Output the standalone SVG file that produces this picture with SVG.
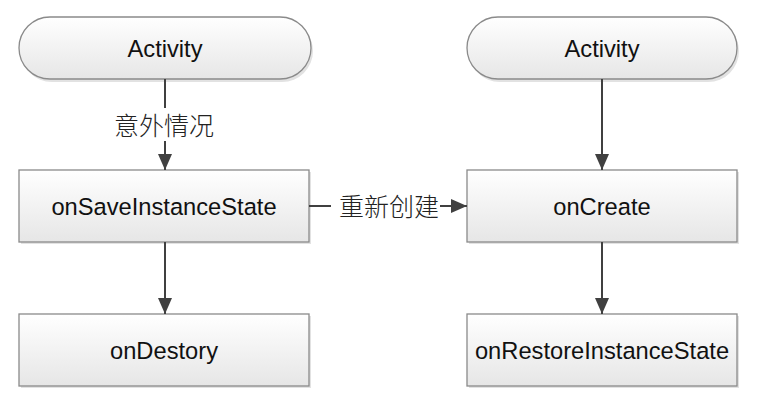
<svg xmlns="http://www.w3.org/2000/svg" width="758" height="404" viewBox="0 0 758 404">
<style>
.box{stroke:#8a8a8a;stroke-width:1.3;fill:url(#g)}
.sh{fill:#e2e2e2;stroke:none}
.t{font-family:"Liberation Sans",Arial,sans-serif;font-size:23.7px;fill:#111;text-anchor:middle}
.c{font-family:"Noto Sans CJK SC","Liberation Serif",serif;font-size:25px;font-weight:300;fill:#222;text-anchor:middle}
.ln{stroke:#404040;stroke-width:2;fill:none}
</style>
<defs>
<linearGradient id="g" x1="0" y1="0" x2="0" y2="1">
<stop offset="0" stop-color="#ffffff"/>
<stop offset="1" stop-color="#e6e6e6"/>
</linearGradient>
<marker id="ah" viewBox="0 0 16 14" refX="16" refY="7" markerWidth="16" markerHeight="14" markerUnits="userSpaceOnUse" orient="auto">
<path d="M0,0 L16,7 L0,14 Z" fill="#404040"/>
</marker>
</defs>
<rect width="758" height="404" fill="#fff"/>
<g id="activity1">
<rect class="sh" x="21" y="20" width="292" height="62" rx="31"/>
<rect class="box" x="19" y="17" width="292" height="62" rx="31"/>
<text class="t" x="165" y="57">Activity</text>
</g>
<g id="onSave">
<rect class="sh" x="21" y="172" width="290" height="72"/>
<rect class="box" x="19" y="170" width="290" height="72"/>
<text class="t" x="164" y="215">onSaveInstanceState</text>
</g>
<g id="onDestory">
<rect class="sh" x="21" y="316" width="290" height="72"/>
<rect class="box" x="19" y="314" width="290" height="72"/>
<text class="t" x="164" y="359">onDestory</text>
</g>
<g id="activity2">
<rect class="sh" x="469" y="20" width="270" height="62" rx="31"/>
<rect class="box" x="467" y="17" width="270" height="62" rx="31"/>
<text class="t" x="602" y="57">Activity</text>
</g>
<g id="onCreate">
<rect class="sh" x="469" y="172" width="270" height="72"/>
<rect class="box" x="467" y="170" width="270" height="72"/>
<text class="t" x="602" y="215">onCreate</text>
</g>
<g id="onRestore">
<rect class="sh" x="469" y="316" width="270" height="72"/>
<rect class="box" x="467" y="314" width="270" height="72"/>
<text class="t" x="602" y="359">onRestoreInstanceState</text>
</g>
<g id="connectors">
<line class="ln" x1="165" y1="79" x2="165" y2="108"/>
<line class="ln" x1="165" y1="141" x2="165" y2="170" marker-end="url(#ah)"/>
<text class="c" x="164" y="135">意外情况</text>
<line class="ln" x1="165" y1="242" x2="165" y2="314" marker-end="url(#ah)"/>
<line class="ln" x1="309" y1="206" x2="331" y2="206"/>
<line class="ln" x1="440" y1="206" x2="467" y2="206" marker-end="url(#ah)"/>
<text class="c" x="389" y="216">重新创建</text>
<line class="ln" x1="602" y1="79" x2="602" y2="170" marker-end="url(#ah)"/>
<line class="ln" x1="602" y1="242" x2="602" y2="314" marker-end="url(#ah)"/>
</g>
</svg>
